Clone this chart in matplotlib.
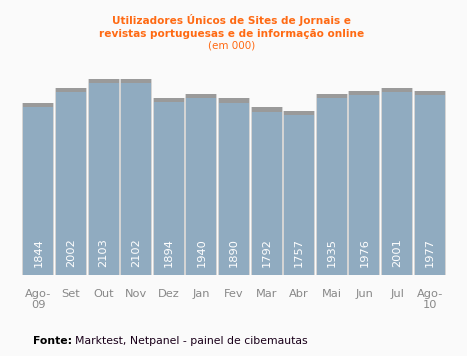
import numpy as np
import matplotlib.pyplot as plt

months = ['Ago-\n09', 'Set', 'Out', 'Nov', 'Dez', 'Jan', 'Fev', 'Mar', 'Abr',
          'Mai', 'Jun', 'Jul', 'Ago-\n10']
users = [1844, 2002, 2103, 2102, 1894, 1940, 1890, 1792, 1757,
         1935, 1976, 2001, 1977]

BG = '#fafafa'
BAR = '#90abc0'
ORANGE = '#ff6a13'


def main():
    fig = plt.figure(figsize=(4.67, 3.56), dpi=100, facecolor=BG)
    ax = fig.add_axes([22 / 467, 81 / 356, 424 / 467, 215 / 356])
    ax.set_facecolor(BG)

    x = np.arange(len(users))
    w = 0.92
    # soft shadow / outline behind each bar
    ax.bar(x, np.array(users) + 45, width=w + 0.06, color='#d4d4d4', zorder=1)
    ax.bar(x, np.array(users) + 45, width=w, color='#9a9a9a', zorder=2)
    ax.bar(x, users, width=w, color=BAR, zorder=3)

    for xi, v in zip(x, users):
        ax.text(xi, 88, str(v), rotation=90, color='white', fontsize=8.2,
                ha='center', va='bottom', zorder=4)

    ax.set_xlim(-0.5, len(users) - 0.5)
    ax.set_ylim(0, 2357)
    ax.set_xticks(x)
    ax.set_xticklabels(months, color='#888888', fontsize=8.2, linespacing=1.1)
    ax.tick_params(axis='x', length=0, pad=10)
    ax.set_yticks([])
    for s in ax.spines.values():
        s.set_visible(False)

    fig.text(0.495, 1 - 20 / 356, 'Utilizadores Únicos de Sites de Jornais e',
             ha='center', va='center', color=ORANGE, fontsize=7.6, fontweight='bold')
    fig.text(0.495, 1 - 34 / 356, 'revistas portuguesas e de informação online',
             ha='center', va='center', color=ORANGE, fontsize=7.6, fontweight='bold')
    fig.text(0.495, 1 - 46 / 356, '(em 000)', ha='center', va='center',
             color=ORANGE, fontsize=7.5)
    fig.text(33 / 467, 1 - 341 / 356, 'Fonte:', ha='left', va='center',
             color='black', fontsize=7.8, fontweight='bold')
    fig.text(75 / 467, 1 - 341 / 356, 'Marktest, Netpanel - painel de cibemautas',
             ha='left', va='center', color='#1a001a', fontsize=7.8)

    fig.savefig('out.png', dpi=100, facecolor=BG)


if __name__ == '__main__':
    main()
